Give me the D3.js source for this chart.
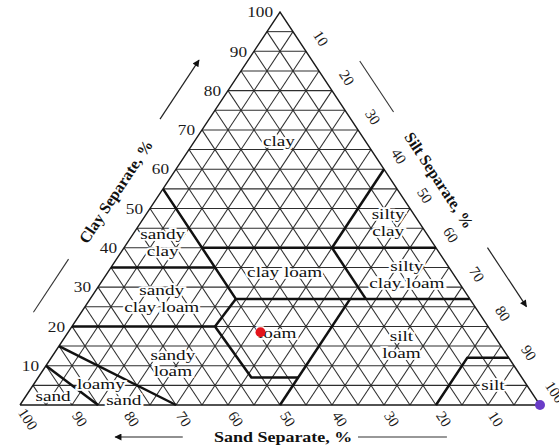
<!DOCTYPE html>
<html>
<head>
<meta charset="utf-8">
<script src="https://cdn.jsdelivr.net/npm/d3@7"></script>
<style>
  body { margin: 0; background: #fff; }
  svg { display: block; }
</style>
</head>
<body>
<div id="chart"></div>
<script>
// tick labels along the three sides
const clayTicks = [10, 20, 30, 40, 50, 60, 70, 80, 90, 100];
const siltTicks = [10, 20, 30, 40, 50, 60, 70, 80, 90, 100];
const sandTicks = [100, 90, 80, 70, 60, 50, 40, 30, 20, 10];

// texture class boundaries, every point is [sand, clay]
const boundaries = [
    [[90, 10], [85, 0]],
    [[85, 15], [70, 0]],
    [[80, 20], [52.5, 20], [52, 7], [43, 7]],
    [[52.5, 20], [45, 27]],
    [[65, 35], [45, 35]],
    [[45, 55], [45, 27], [0, 27]],
    [[45, 40], [0, 40]],
    [[20, 40], [20, 27]],
    [[20, 40], [0, 60]],
    [[50, 0], [23, 27]],
    [[20, 0], [8, 12], [0, 12]]
];

// class names, placed at [sand, clay]
const classNames = [
    ["clay"], ["sandy", "clay"], ["silty", "clay"], ["sandy", "clay loam"],
    ["clay loam"], ["silty", "clay loam"], ["loam"], ["sandy", "loam"],
    ["silt", "loam"], ["loamy"], ["sand"], ["sand"], ["silt"]
];
const classSand = [16.6, 51.9, 6.0, 59.2, 32.2, 9.0, 41.4, 65.3, 19.0, 81.8, 79.4, 92.5, 6.5];
const classClay = [67.2, 41.3, 46.4, 27.1, 33.8, 33.2, 18.3, 10.6, 15.3, 5.3, 1.3, 2.3, 5.1];

// the two samples marked on the chart
const sampleSand = [44.5, 0];
const sampleClay = [18.5, 0];
const sampleColor = ["#e3141b", "#6a3cc8"];

const margin = { top: 12, right: 19, bottom: 40, left: 20 },
    width = 559 - margin.left - margin.right,
    height = 445 - margin.top - margin.bottom;

const svg = d3.select('#chart')
    .append("svg")
    .attr("width", width + margin.left + margin.right)
    .attr("height", height + margin.top + margin.bottom)
    .append("g")
    .attr("transform", `translate(${margin.left}, ${margin.top})`);

// x runs on sand + clay/2 (100 = sand corner), y on clay
const xScale = d3.scaleLinear().domain([100, 0]).range([0, width]);
const yScale = d3.scaleLinear().domain([0, 100]).range([height, 0]);
const pos = (sand, clay) => [xScale(sand + clay / 2), yScale(clay)];

const line = d3.line().x(d => pos(d[0], d[1])[0]).y(d => pos(d[0], d[1])[1]);

const serif = "'Liberation Serif', 'Times New Roman', serif";

// corners, clockwise: sand corner, clay apex, silt corner
const L = pos(100, 0), T = pos(0, 100), R = pos(0, 0);

// point on an edge a->b at fraction t, pushed out by d
function edgePoint(a, b, t, d) {
    const dx = b[0] - a[0], dy = b[1] - a[1];
    const len = Math.hypot(dx, dy);
    return [a[0] + dx * t + dy / len * d, a[1] + dy * t - dx / len * d];
}

//grid every 5 %
const steps = d3.range(5, 100, 5);
const gridLines = [];
steps.forEach(v => {
    gridLines.push([[100 - v, v], [0, v]]);        // clay
    gridLines.push([[v, 0], [v, 100 - v]]);        // sand
    gridLines.push([[100 - v, 0], [0, 100 - v]]);  // silt
});

svg.append("g")
    .selectAll("path")
    .data(gridLines)
    .enter()
    .append("path")
    .attr("d", line)
    .attr("fill", "none")
    .attr("stroke", "#2e2e2e")
    .attr("stroke-width", 1.05);

svg.append("path")
    .attr("d", line([[100, 0], [0, 100], [0, 0], [100, 0]]))
    .attr("fill", "none")
    .attr("stroke", "#1a1a1a")
    .attr("stroke-width", 1.4);

svg.append("g")
    .selectAll("path")
    .data(boundaries)
    .enter()
    .append("path")
    .attr("d", line)
    .attr("fill", "none")
    .attr("stroke", "#111")
    .attr("stroke-width", 2.5)
    .attr("stroke-linejoin", "round");

// class labels
const labels = svg.append("g")
    .selectAll("text")
    .data(classNames)
    .enter()
    .append("text")
    .attr("transform", (d, i) => {
        const p = pos(classSand[i], classClay[i]);
        return `translate(${p[0]}, ${p[1]}) scale(1.28, 1)`;
    })
    .attr("text-anchor", "middle")
    .style("font-family", serif)
    .style("font-size", "15px")
    .attr("fill", "#111")
    .attr("stroke", "#fff")
    .attr("stroke-width", 3.5)
    .attr("paint-order", "stroke");

labels.selectAll("tspan")
    .data(d => d.map((t, j) => [t, j, d.length]))
    .enter()
    .append("tspan")
    .attr("x", 0)
    .attr("y", d => (d[1] - (d[2] - 1) / 2) * 16.5)
    .attr("dy", "0.32em")
    .text(d => d[0]);

// samples
svg.append("g")
    .selectAll("circle")
    .data(sampleSand)
    .enter()
    .append("circle")
    .attr("cx", (d, i) => pos(d, sampleClay[i])[0])
    .attr("cy", (d, i) => pos(d, sampleClay[i])[1])
    .attr("r", 5)
    .attr("fill", (d, i) => sampleColor[i]);

// tick labels
svg.append("g")
    .selectAll("text")
    .data(clayTicks)
    .enter()
    .append("text")
    .attr("transform", d => {
        const p = pos(100 - d, d);
        return `translate(${p[0] - 7}, ${p[1]}) scale(1.15, 1)`;
    })
    .attr("dy", "0.35em")
    .attr("text-anchor", "end")
    .style("font-family", serif)
    .style("font-size", "15px")
    .attr("fill", "#1a1a1a")
    .text(d => d);

svg.append("g")
    .selectAll("text")
    .data(siltTicks)
    .enter()
    .append("text")
    .attr("transform", d => {
        const p = pos(0, 100 - d);
        return `translate(${p[0] + 15}, ${p[1] - 13}) rotate(57)`;
    })
    .attr("dy", "0.35em")
    .attr("text-anchor", "middle")
    .style("font-family", serif)
    .style("font-size", "15px")
    .attr("fill", "#1a1a1a")
    .text(d => d);

svg.append("g")
    .selectAll("text")
    .data(sandTicks)
    .enter()
    .append("text")
    .attr("transform", d => {
        const p = pos(d, 0);
        return `translate(${p[0] + 8}, ${p[1] + 14}) rotate(57)`;
    })
    .attr("dy", "0.35em")
    .attr("text-anchor", "middle")
    .style("font-family", serif)
    .style("font-size", "15px")
    .attr("fill", "#1a1a1a")
    .text(d => d);

// axis titles with their arrows
const defs = d3.select("svg").append("defs");
defs.append("marker")
    .attr("id", "head")
    .attr("viewBox", "0 0 10 10")
    .attr("refX", 9)
    .attr("refY", 5)
    .attr("markerWidth", 9)
    .attr("markerHeight", 7)
    .attr("markerUnits", "userSpaceOnUse")
    .attr("orient", "auto")
    .append("path")
    .attr("d", "M0,0L10,5L0,10Z")
    .attr("fill", "#111");

const sides = [
    { a: L, b: T, title: "Clay Separate, %", t: 0.49, d: 38, tail: [0.18, 0.315, 40], arrow: [0.67, 0.82, 41], scale: 1 },
    { a: T, b: R, title: "Silt Separate, %", t: 0.484, d: 40, tail: [0.18, 0.31, 39.5], arrow: [0.66, 0.81, 43], scale: 1 },
    { a: R, b: L, title: "Sand Separate, %", t: 0.494, d: 32, tail: [0.179, 0.35, 32], arrow: [0.687, 0.817, 32], scale: 1.2 }
];

sides.forEach(s => {
    const angle = Math.atan2(s.b[1] - s.a[1], s.b[0] - s.a[0]) * 180 / Math.PI;
    const rot = s.a === R ? 0 : angle;
    const c = edgePoint(s.a, s.b, s.t, s.d);
    svg.append("text")
        .attr("transform", `translate(${c[0]}, ${c[1]}) rotate(${rot}) scale(${s.scale}, 1)`)
        .attr("text-anchor", "middle")
        .attr("dy", "0.35em")
        .style("font-family", serif)
        .style("font-size", s.scale > 1 ? "15px" : "16px")
        .style("font-weight", 700)
        .attr("fill", "#111")
        .text(s.title);

    const t0 = edgePoint(s.a, s.b, s.tail[0], s.tail[2]),
        t1 = edgePoint(s.a, s.b, s.tail[1], s.tail[2]);
    svg.append("line")
        .attr("x1", t0[0]).attr("y1", t0[1])
        .attr("x2", t1[0]).attr("y2", t1[1])
        .attr("stroke", "#333")
        .attr("stroke-width", 1.1);

    const a0 = edgePoint(s.a, s.b, s.arrow[0], s.arrow[2]),
        a1 = edgePoint(s.a, s.b, s.arrow[1], s.arrow[2]);
    svg.append("line")
        .attr("x1", a0[0]).attr("y1", a0[1])
        .attr("x2", a1[0]).attr("y2", a1[1])
        .attr("stroke", "#222")
        .attr("stroke-width", 1.2)
        .attr("marker-end", "url(#head)");
});
</script>
</body>
</html>
